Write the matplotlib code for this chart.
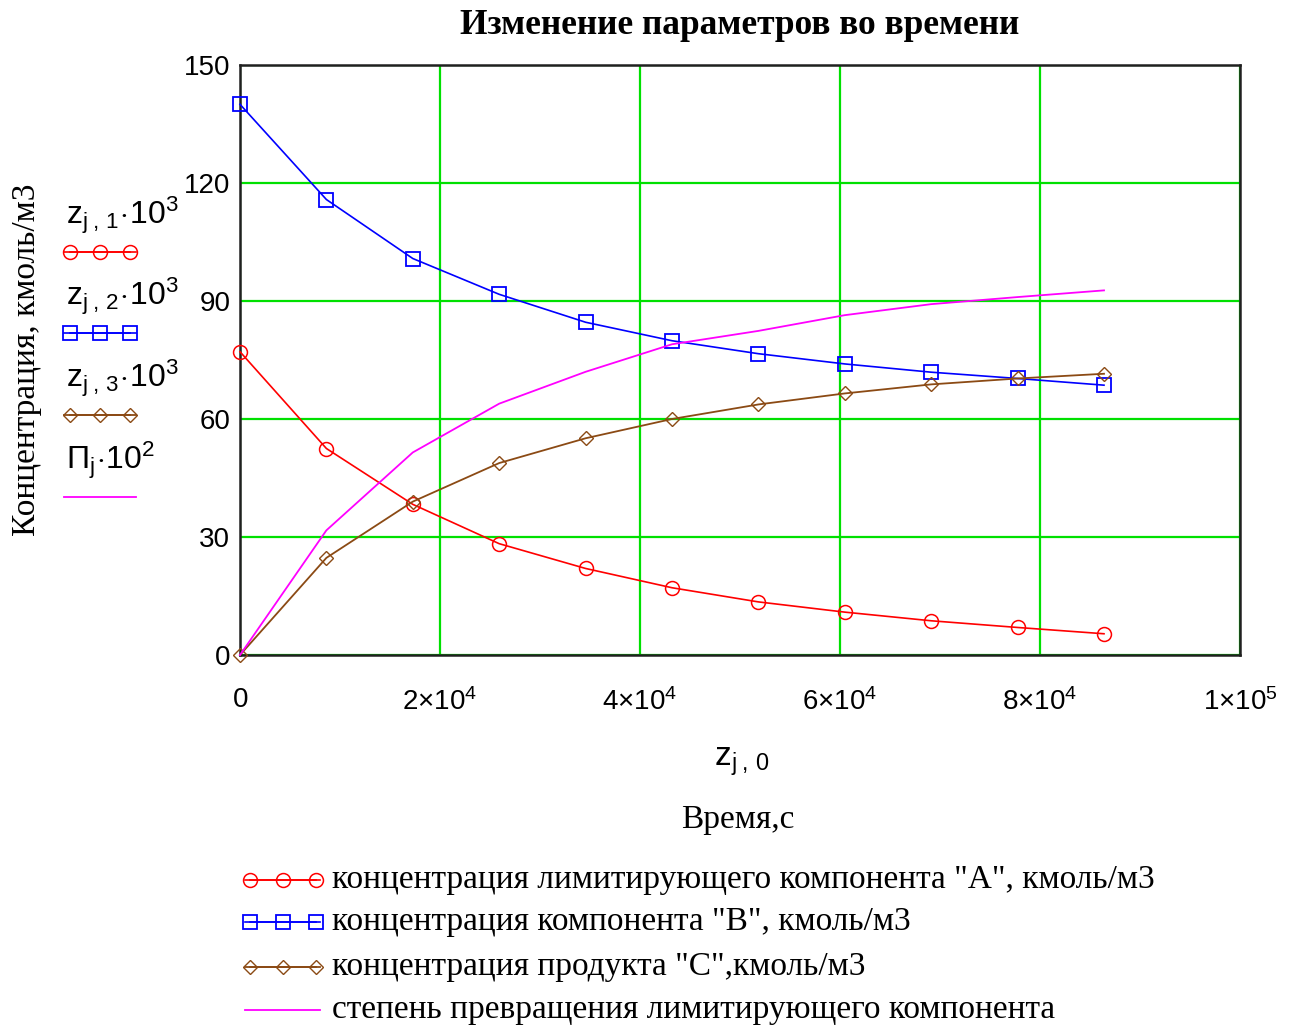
import matplotlib
matplotlib.use("Agg")
import matplotlib.pyplot as plt
from matplotlib.lines import Line2D

SANS = 'Liberation Sans'
plt.rcParams['font.family'] = ['Liberation Serif', 'DejaVu Serif']
plt.rcParams['mathtext.fontset'] = 'custom'
plt.rcParams['mathtext.rm'] = SANS
plt.rcParams['mathtext.it'] = SANS
plt.rcParams['mathtext.bf'] = SANS + ':bold'

# ---- data ----
time_s = [0, 8640, 17280, 25920, 34560, 43200, 51840, 60480, 69120, 77760, 86400]
conc_A = [77.1, 52.5, 38.3, 28.3, 22.0, 17.1, 13.5, 10.9, 8.7, 7.0, 5.4]
conc_B = [140.0, 115.8, 100.8, 91.7, 84.6, 79.9, 76.6, 74.0, 71.9, 70.3, 68.6]
conc_C = [0.0, 24.7, 39.0, 48.8, 55.1, 60.0, 63.7, 66.5, 68.8, 70.3, 71.5]
conversion = [0.0, 31.7, 51.5, 63.9, 72.0, 79.0, 82.4, 86.4, 89.2, 91.0, 92.7]

x_ticks = [0, 20000, 40000, 60000, 80000, 100000]
x_tick_labels = [r'$0$', r'$2{\times}10^{4}$', r'$4{\times}10^{4}$', r'$6{\times}10^{4}$',
                 r'$8{\times}10^{4}$', r'$1{\times}10^{5}$']
y_ticks = [0, 30, 60, 90, 120, 150]

left_labels = [r'$\mathrm{z}_{\mathrm{j}\;,\,1}\!\cdot\!10^{3}$',
               r'$\mathrm{z}_{\mathrm{j}\;,\,2}\!\cdot\!10^{3}$',
               r'$\mathrm{z}_{\mathrm{j}\;,\,3}\!\cdot\!10^{3}$',
               r'$\mathrm{П}_{\mathrm{j}}\!\cdot\!10^{2}$']
bottom_labels = ['концентрация лимитирующего компонента "А", кмоль/м3',
                 'концентрация компонента "В", кмоль/м3',
                 'концентрация продукта "С",кмоль/м3',
                 'степень превращения лимитирующего компонента']

W, H = 1302, 1028
fig = plt.figure(figsize=(W / 100, H / 100), dpi=100)
ax = fig.add_axes([240 / W, 1 - 655 / H, 1000 / W, 590 / H])

red, blue, brown, magenta = '#ff0000', '#0000ff', '#8b4a14', '#ff00ff'
styles = [
    dict(color=red, marker='o', ms=10, mfc='none', mec=red, mew=1.1, lw=1.2),
    dict(color=blue, marker='s', ms=10, mfc='none', mec=blue, mew=1.3, lw=1.2),
    dict(color=brown, marker='D', ms=7, mfc='none', mec=brown, mew=1.0, lw=1.3),
    dict(color=magenta, lw=1.3),
]
series = [conc_A, conc_B, conc_C, conversion]
for s, st in zip(series, styles):
    ax.plot(time_s, s, clip_on=False, zorder=3, **st)

ax.set_xlim(0, 100000)
ax.set_ylim(0, 150)
ax.set_xticks(x_ticks)
ax.set_xticklabels(x_tick_labels)
ax.set_yticks(y_ticks)
ax.set_yticklabels([str(v) for v in y_ticks], family=SANS)
ax.tick_params(length=0, labelsize=20, pad=7)
ax.tick_params(axis='x', pad=24)
ax.grid(True, color='#00e000', lw=1.6)
ax.set_axisbelow(True)
for sp in ax.spines.values():
    sp.set_linewidth(1.8)
    sp.set_color('#202020')

# title and axis texts
fig.text(740 / W, 1 - 25 / H, 'Изменение параметров во времени', ha='center', va='center',
         fontsize=25.5, fontweight='bold')
fig.text(27 / W, 1 - 360 / H, 'Концентрация, кмоль/м3', rotation=90, ha='center', va='center',
         fontsize=24)
fig.text(742 / W, 1 - 762 / H, r'$\mathrm{z}_{\mathrm{j}\;,\,0}$', ha='center', va='center',
         fontsize=24)
fig.text(738 / W, 1 - 820 / H, 'Время,с', ha='center', va='center', fontsize=24)

# left-side legend (label above sample line)
left_y = [252, 333, 415, 497]
for lab, st, ly in zip(left_labels, styles, left_y):
    fig.text(66 / W, 1 - (ly - 28) / H, lab, ha='left', va='baseline', fontsize=23)
    fig.add_artist(Line2D([64 / W, 136 / W], [1 - ly / H] * 2, transform=fig.transFigure,
                          color=st['color'], lw=st['lw']))
    if 'marker' in st:
        xs = [70 / W, 100 / W, 130 / W]
        fig.add_artist(Line2D(xs, [1 - ly / H] * 3, transform=fig.transFigure, **st))

# bottom legend
bot_y = [880, 922, 967, 1010]
for lab, st, by in zip(bottom_labels, styles, bot_y):
    fig.add_artist(Line2D([245 / W, 320 / W], [1 - by / H] * 2, transform=fig.transFigure,
                          color=st['color'], lw=st['lw']))
    if 'marker' in st:
        xs = [250 / W, 283 / W, 316 / W]
        fig.add_artist(Line2D(xs, [1 - by / H] * 3, transform=fig.transFigure, **st))
    fig.text(332 / W, 1 - by / H, lab, ha='left', va='center', fontsize=24)

fig.savefig('out.png', dpi=100)
